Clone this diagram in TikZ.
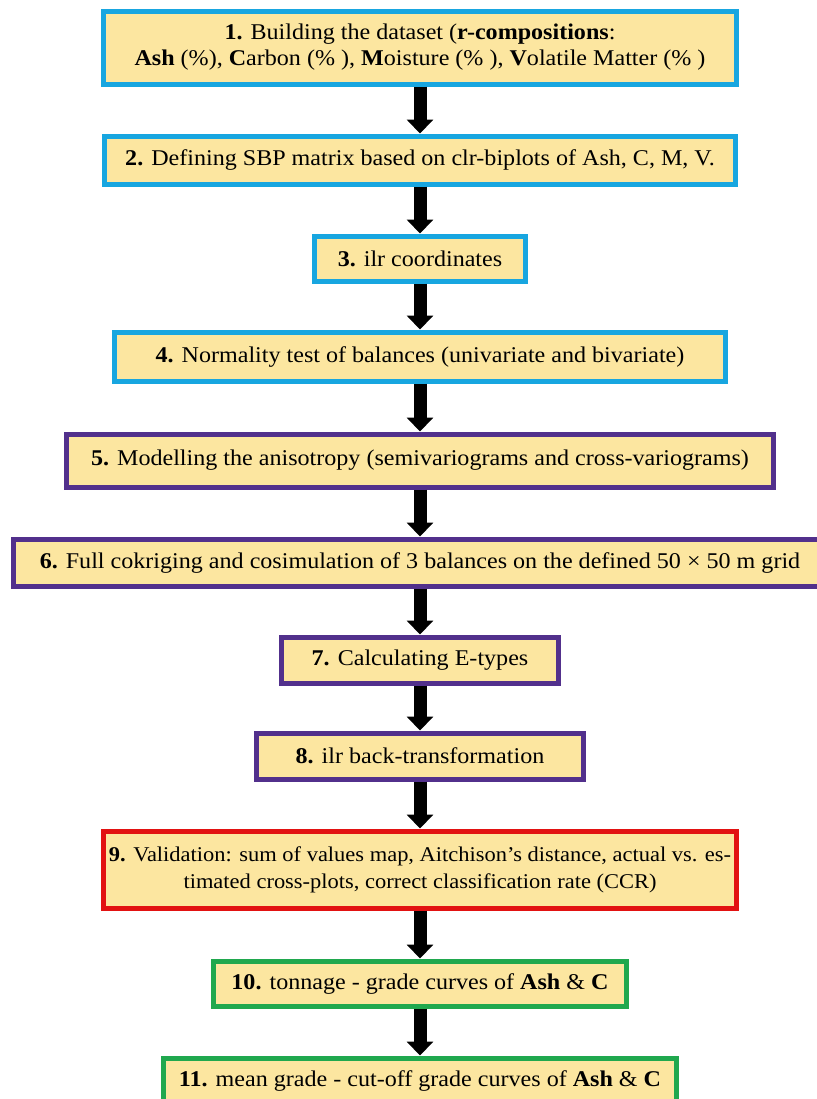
\documentclass[tikz,border=0pt]{standalone}
\usepackage{fontspec}
\setmainfont{Liberation Serif}[FakeStretch=1.07]
\usepackage{tikz}
\usetikzlibrary{matrix,arrows.meta}

\definecolor{stepfill}{RGB}{252,230,160}
\definecolor{stepblue}{RGB}{24,166,224}
\definecolor{steppurple}{RGB}{82,48,140}
\definecolor{stepred}{RGB}{226,18,18}
\definecolor{stepgreen}{RGB}{32,168,78}

\tikzset{
  stepbox/.style={draw, fill=stepfill, line width=5pt, align=center, inner sep=2pt,
    font=\fontsize{22.5}{26}\selectfont},
  bluebox/.style={stepbox, draw=stepblue},
  purplebox/.style={stepbox, draw=steppurple},
  redbox/.style={stepbox, draw=stepred},
  greenbox/.style={stepbox, draw=stepgreen},
  flow/.style={-{Triangle[width=26pt,length=14pt]}, line width=13pt, black}
}

\begin{document}
\begin{tikzpicture}[x=1pt,y=-1pt]
  \useasboundingbox (0,0) rectangle (816,1099);
  \matrix (m) [row sep=47pt, anchor=north] at (420,5)
  {
\node[bluebox, minimum width=633pt, minimum height=73pt] (s1) {\textbf{1.} Building the dataset (\textbf{r-compositions}:\\
\textbf{Ash} (\%), \textbf{C}arbon (\% ), \textbf{M}oisture (\% ), \textbf{V}olatile Matter (\% )}; \\
\node[bluebox, minimum width=631pt, minimum height=48pt] (s2) {\textbf{2.} Defining SBP matrix based on clr-biplots of Ash, C, M, V.}; \\
\node[bluebox, minimum width=210pt, minimum height=45pt] (s3) {\textbf{3.} ilr coordinates}; \\[-1pt]
\node[bluebox, minimum width=611pt, minimum height=49pt] (s4) {\textbf{4.} Normality test of balances (univariate and bivariate)}; \\[1pt]
\node[purplebox, minimum width=707pt, minimum height=53pt] (s5) {\textbf{5.} Modelling the anisotropy (semivariograms and cross-variograms)}; \\
\node[purplebox, minimum width=813pt, minimum height=47pt] (s6) {\textbf{6.} Full cokriging and cosimulation of 3 balances on the defined 50 × 50 m grid}; \\[-1pt]
\node[purplebox, minimum width=277pt, minimum height=46pt] (s7) {\textbf{7.} Calculating E-types}; \\[-2pt]
\node[purplebox, minimum width=327pt, minimum height=46pt] (s8) {\textbf{8.} ilr back-transformation}; \\
\node[redbox, minimum width=632pt, minimum height=77pt, font=\fontsize{21}{27}\selectfont] (s9) {\textbf{9.} Validation: sum of values map, Aitchison’s distance, actual vs. es-\\
timated cross-plots, correct classification rate (CCR)}; \\[1pt]
\node[greenbox, minimum width=412pt, minimum height=45pt] (s10) {\textbf{10.} tonnage - grade curves of \textbf{Ash} \& \textbf{C}}; \\
\node[greenbox, minimum width=512pt, minimum height=45pt] (s11) {\textbf{11.} mean grade - cut-off grade curves of \textbf{Ash} \& \textbf{C}}; \\
};
  \path[flow]
  (s1) edge (s2)
  (s2) edge (s3)
  (s3) edge (s4)
  (s4) edge (s5)
  (s5) edge (s6)
  (s6) edge (s7)
  (s7) edge (s8)
  (s8) edge (s9)
  (s9) edge (s10)
  (s10) edge (s11)
  ;
\end{tikzpicture}
\end{document}
